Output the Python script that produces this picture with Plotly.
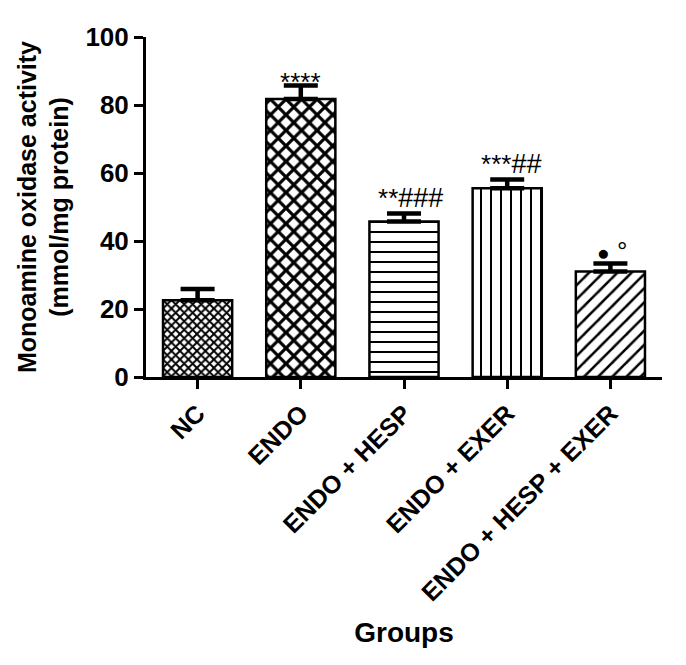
import plotly.graph_objects as go

groups = ["NC", "ENDO", "ENDO + HESP", "ENDO + EXER", "ENDO + HESP + EXER"]
means = [22.6, 81.8, 45.7, 55.5, 31.0]
sems = [3.3, 3.9, 2.4, 2.6, 2.4]
sig_labels = ["", "****", "**###", "***##", "●°"]
y_ticks = [0, 20, 40, 60, 80, 100]

FONT = "Arial, Liberation Sans, sans-serif"

patterns = [
    dict(shape="x", size=6, solidity=0.55),
    dict(shape="x", size=11, solidity=0.5),
    dict(shape="-", size=10, solidity=0.2),
    dict(shape="|", size=10, solidity=0.2),
    dict(shape="/", size=10, solidity=0.25),
]

fig = go.Figure()
for i, g in enumerate(groups):
    pat = dict(patterns[i], fgcolor="#000000", bgcolor="#ffffff", fgopacity=1, fillmode="replace")
    fig.add_trace(go.Bar(
        x=[g], y=[means[i]],
        width=0.67,
        marker=dict(color="#ffffff", opacity=1, line=dict(color="black", width=2.5), pattern=pat),
        error_y=dict(type="data", symmetric=False, array=[sems[i]], arrayminus=[0],
                     color="black", thickness=4.5, width=17),
        showlegend=False,
    ))

def fmt(lbl):
    out = ""
    for ch in lbl:
        if ch == "*":
            out += "<span style='font-size:26px'>*</span>"
        elif ch == "#":
            out += "<span style='font-size:27px'>#</span>"
        elif ch == "●":
            out += "<span style='font-size:21px'>●</span>"
        elif ch == "°":
            out += "<span style='font-size:26px'> °</span>"
    return out

yshifts = [0, -13, -2, -2, -5]
xshifts = [0, 0, 6, 4, 2]
for i, g in enumerate(groups):
    if sig_labels[i]:
        fig.add_annotation(x=g, y=means[i] + sems[i], xref="x", yref="y",
                           text=fmt(sig_labels[i]), showarrow=False,
                           yanchor="bottom", yshift=yshifts[i], xshift=xshifts[i],
                           font=dict(family=FONT, size=26, color="black"))

fig.update_layout(
    width=686, height=665,
    margin=dict(l=146, r=24, t=37, b=288),
    plot_bgcolor="white", paper_bgcolor="white",
    font=dict(family=FONT, color="black"),
)
fig.update_yaxes(
    range=[0, 100], tickvals=y_ticks, ticktext=["<b>%d</b>" % v for v in y_ticks],
    showgrid=False, zeroline=False,
    showline=True, linecolor="black", linewidth=3,
    ticks="outside", ticklen=9, tickwidth=3, tickcolor="black",
    tickfont=dict(family=FONT, size=26, color="black"),
    title=dict(text="<b>Monoamine oxidase activity<br>(mmol/mg protein)</b>",
               font=dict(family=FONT, size=25, color="black"), standoff=10),
)
fig.update_xaxes(
    range=[-0.5, 4.5],
    tickvals=groups, ticktext=["<b>%s</b>" % g for g in groups],
    tickangle=-45,
    showgrid=False, zeroline=False,
    showline=True, linecolor="black", linewidth=3,
    ticks="outside", ticklen=9, tickwidth=3, tickcolor="black",
    tickfont=dict(family=FONT, size=25, color="black"),
    title=dict(text="<b>Groups</b>", font=dict(family=FONT, size=28, color="black"), standoff=18),
)

fig.write_html("out.html")
